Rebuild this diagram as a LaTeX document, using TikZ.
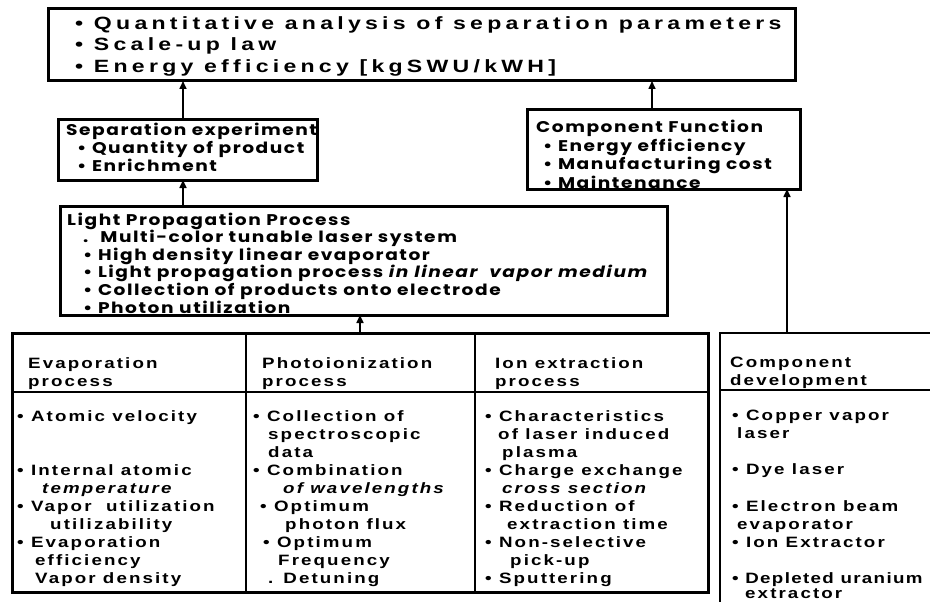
\documentclass[tikz,border=0pt]{standalone}
\usepackage{fontspec}
\setmainfont{Liberation Sans}
\newfontfamily\topfont[FakeStretch=1.3,LetterSpace=24]{Liberation Sans}
\newfontfamily\tabfont[FakeStretch=1.25,LetterSpace=14]{Liberation Sans}
\newfontfamily\midfont[FakeStretch=1.2,LetterSpace=10]{Poppins}
\usetikzlibrary{arrows.meta, positioning, calc}

\tikzset{
  box/.style={draw, line width=3pt, anchor=north west, inner sep=0pt, outer sep=0pt},
  txt/.style={anchor=north west, inner sep=0pt, align=left, execute at begin node=\strut},
  toptxt/.style={txt, font=\topfont\bfseries\fontsize{17.75}{21.5}\selectfont},
  midtxt/.style={txt, font=\midfont\bfseries\fontsize{15.5}{18}\selectfont},
  tabtxt/.style={txt, font=\tabfont\bfseries\fontsize{15}{18.1}\selectfont},
  divider/.style={line width=1.5pt},
  up/.style={line width=1.6pt, -{Triangle[length=8pt,width=7pt]}}
}
\newcommand{\itm}{\textbullet\ }

\begin{document}
\begin{tikzpicture}[x=1pt, y=-1pt]
\path[use as bounding box] (0,0) rectangle (930,602);
\clip (0,0) rectangle (930,602);

% aims of the programme
\node[box, minimum width=747pt, minimum height=72pt] (goal) at (48,9) {};
\node[toptxt] (goaltxt) at (75,16) {\itm Quantitative analysis of separation parameters\\
  \itm Scale-up law\\
  \itm Energy efficiency [kgSWU/kWH]};

% separation experiment
\node[box, minimum width=259pt, minimum height=60pt] (sepbox) at (58,120) {};
\node[midtxt] (septxt) at (66,123) {Separation experiment\\
  \hspace*{11pt}\itm Quantity of product\\
  \hspace*{11pt}\itm Enrichment};

% light propagation
\node[box, minimum width=607pt, minimum height=109pt] (lpp) at (60,206) {};
\node[midtxt, font=\midfont\bfseries\fontsize{15.5}{17.6}\selectfont] (lpptxt) at (67,212.5) {Light Propagation Process\\
  \hspace*{16pt}.\hspace*{12pt}Multi-color tunable laser system\\
  \hspace*{16pt}\itm High density linear evaporator\\
  \hspace*{16pt}\itm Light propagation process \textit{in linear\ \ vapor medium}\\
  \hspace*{16pt}\itm Collection of products onto electrode\\
  \hspace*{16pt}\itm Photon utilization};

% component function
\node[box, minimum width=273pt, minimum height=79pt] (cf) at (527,110) {};
\node[midtxt, font=\midfont\bfseries\fontsize{15.5}{18.5}\selectfont] (cftxt) at (536,120) {Component Function\\
  \hspace*{7pt}\itm Energy efficiency\\
  \hspace*{7pt}\itm Manufacturing cost\\
  \hspace*{7pt}\itm Maintenance};

% process table
\node[box, minimum width=696pt, minimum height=259pt] (proc) at (12,333) {};
\draw[divider] (246,0 |- proc.north) -- (246,0 |- proc.south);
\draw[divider] (475,0 |- proc.north) -- (475,0 |- proc.south);
\draw[divider] (proc.west |- 0,392) -- (proc.east |- 0,392);

\node[tabtxt] (evhead) at (28,357) {Evaporation\\ process};
\node[tabtxt] (phhead) at (262,357) {Photoionization\\ process};
\node[tabtxt] (iohead) at (495,357) {Ion extraction\\ process};

\node[tabtxt] (evbody) at (17,410) {\itm Atomic velocity\\ \mbox{}\\ \mbox{}\\
  \itm Internal atomic\\
  \hspace*{25pt}\textit{temperature}\\
  \itm Vapor\ \ utilization\\
  \hspace*{33pt}utilizability\\
  \itm Evaporation\\
  \hspace*{18pt}efficiency\\
  \hspace*{18pt}Vapor density};
\node[tabtxt] (phbody) at (253,410) {\itm Collection of\\
  \hspace*{15pt}spectroscopic\\
  \hspace*{15pt}data\\
  \itm Combination\\
  \hspace*{30pt}\textit{of wavelengths}\\
  \hspace*{7pt}\itm Optimum\\
  \hspace*{32pt}photon flux\\
  \hspace*{10pt}\itm Optimum\\
  \hspace*{25pt}Frequency\\
  \hspace*{15pt}.\hspace*{10pt}Detuning};
\node[tabtxt] (iobody) at (485,410) {\itm Characteristics\\
  \hspace*{13pt}of laser induced\\
  \hspace*{17pt}plasma\\
  \itm Charge exchange\\
  \hspace*{17pt}\textit{cross section}\\
  \itm Reduction of\\
  \hspace*{22pt}extraction time\\
  \itm Non-selective\\
  \hspace*{25pt}pick-up\\
  \itm Sputtering};

% component development
\node[box, line width=2pt, minimum width=240pt, minimum height=300pt] (compdev) at (720,333) {};
\draw[divider] (compdev.west |- 0,390) -- (compdev.east |- 0,390);
\node[tabtxt] (cdhead) at (730,357) {Component\\ development};
\node[tabtxt] (cdbody) at (732,410) {\itm Copper vapor\\
  \hspace*{5pt}laser\\ \mbox{}\\
  \itm Dye laser\\ \mbox{}\\
  \itm Electron beam\\
  \hspace*{5pt}evaporator\\
  \itm Ion Extractor\\ \mbox{}\\
  \addfontfeature{LetterSpace=9}\itm Depleted uranium\\[-3pt]
  \hspace*{13pt}extractor};

% arrows
\coordinate (sepup) at ([xshift=-4.5pt]sepbox.north);
\coordinate (sepdown) at ([xshift=-4.5pt]sepbox.south);
\coordinate (cfup) at ([xshift=-11.5pt]cf.north);
\coordinate (cfdown) at ([xshift=-13pt]cf.south east);
\draw[up] (sepup) -- (sepup |- goal.south);
\draw[up] (sepdown |- lpp.north) -- (sepdown);
\draw[up] (proc.north) -- (proc.north |- lpp.south);
\draw[up] (cfup) -- (cfup |- goal.south);
\draw[up] (cfdown |- compdev.north) -- (cfdown);
\end{tikzpicture}
\end{document}
